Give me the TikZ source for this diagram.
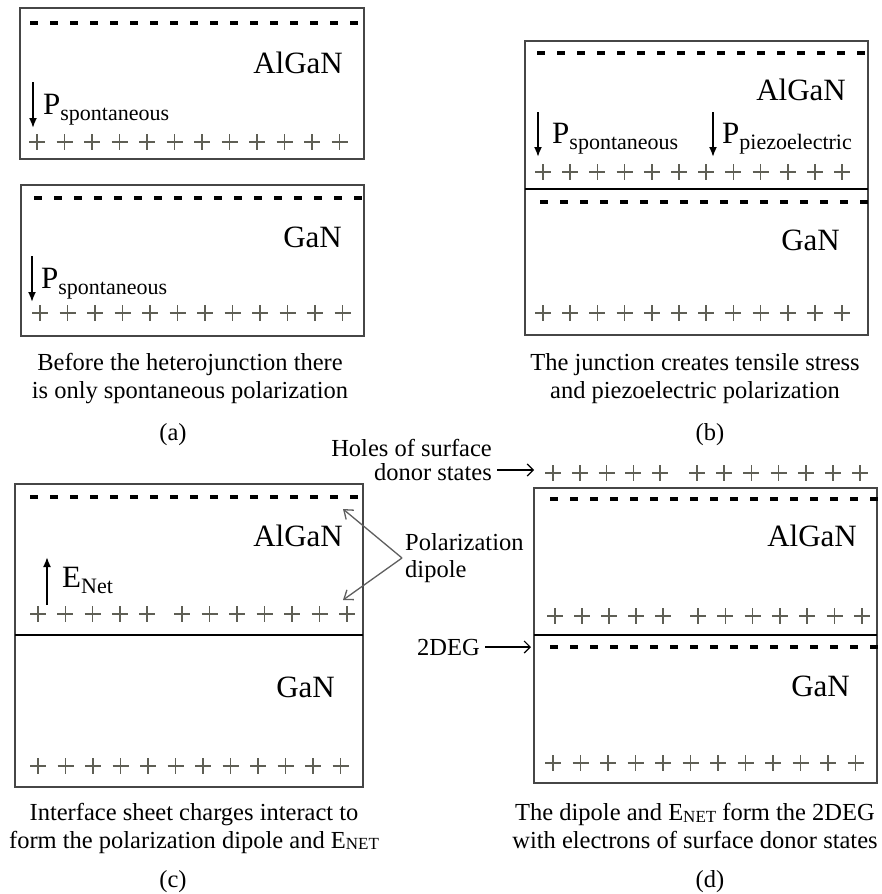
\documentclass[tikz,border=0pt]{standalone}
\usepackage{fontspec}
\setmainfont{Liberation Serif}
\usetikzlibrary{arrows.meta}

\definecolor{boxgray}{RGB}{70,70,70}
\definecolor{plusgray}{RGB}{95,95,85}
\definecolor{pointergray}{RGB}{95,95,95}

% polarization symbol with a subscript
\newcommand\polsym[2]{{\fontsize{31}{31}\selectfont #1}\raisebox{-6pt}{\fontsize{22}{22}\selectfont #2}}
% E_NET as set in the captions
\newcommand\enet{E\raisebox{-1.5pt}{\fontsize{17}{17}\selectfont NET}}

\tikzset{
  layer/.style={draw=boxgray, line width=1.5pt},
  junction/.style={draw=black, line width=2.4pt},
  negrow/.style={draw=black, line width=3.2pt, dash pattern=on 8pt off 12pt},
  plusmark/.style={draw=plusgray, line width=1.6pt},
  material/.style={anchor=base east, inner sep=0pt, font=\fontsize{31}{31}\selectfont},
  polname/.style={anchor=base west, inner sep=0pt},
  polarrow/.style={-{Latex[length=10pt,width=8pt]}, line width=1.8pt},
  caption/.style={align=center, inner sep=0pt, font=\fontsize{24.5}{28}\selectfont},
  tag/.style={inner sep=0pt, font=\fontsize{24.5}{28}\selectfont},
  pointer/.style={-{Straight Barb[length=6pt,width=12pt]}, line width=1.2pt},
  dipole/.style={draw=pointergray, line width=1.3pt, -{Straight Barb[length=8pt,width=12pt]}}
}

% a row of positive charges: #1 = y, #2 = list of x centres
\newcommand\plusrow[2]{%
  \foreach \px in {#2}{%
    \draw[plusmark] (\px-8,#1) -- (\px+8,#1) (\px,#1-8) -- (\px,#1+8);%
  }%
}
% a row of negative charges: 17 dashes starting at x = #2
\newcommand\negrow[2]{\draw[negrow] (#2,#1) -- (#2+328,#1);}

\begin{document}
\begin{tikzpicture}[x=1pt,y=-1pt]
\useasboundingbox[fill=white] (0,0) rectangle (881,894);

% ---------------- (a) separate layers ----------------
\draw[layer] (20,8) rectangle (364,159);
\negrow{23}{30}
\plusrow{142}{37,64.5,...,345}
\node[material] (aAl) at (343,73) {AlGaN};
\node[polname] (aP1) at (43,114) {\polsym{P}{spontaneous}};
\draw[polarrow] (33,82) -- (33,128);

\draw[layer] (21,185) rectangle (364,336);
\negrow{198}{34}
\plusrow{313}{40,67.5,...,348}
\node[material] (aGa) at (342,247) {GaN};
\node[polname] (aP2) at (41,288) {\polsym{P}{spontaneous}};
\draw[polarrow] (32,256) -- (32,302);

\node[caption] (capA) at (190,379) {Before the heterojunction there\\is only spontaneous polarization};
\node[tag] (tagA) at (173,435) {(a)};

% ---------------- (b) junction ----------------
\draw[layer] (525,41) rectangle (868,335);
\draw[junction] (525,189) -- (868,189);
\negrow{53}{537}
\plusrow{172}{543,570.2,...,848}
\negrow{202}{540}
\plusrow{313}{543,570.2,...,848}
\node[material] (bAl) at (846,100) {AlGaN};
\node[material] (bGa) at (840,250) {GaN};
\node[polname] (bP1) at (552,143) {\polsym{P}{spontaneous}};
\draw[polarrow] (538,112) -- (538,157);
\node[polname] (bP2) at (722,143) {\polsym{P}{piezoelectric}};
\draw[polarrow] (713,112) -- (713,157);

\node[caption] (capB) at (695,379) {The junction creates tensile stress\\and piezoelectric polarization};
\node[tag] (tagB) at (710,435) {(b)};

% ---------------- (c) polarization dipole ----------------
\draw[layer] (15,484) rectangle (363,787);
\draw[junction] (15,635) -- (363,635);
\negrow{497}{30}
\plusrow{614}{38,65.3,...,152,182,209.5,...,352}
\plusrow{766}{38,65.5,...,346}
\node[material] (cAl) at (343,546) {AlGaN};
\node[material] (cGa) at (335,697) {GaN};
\node[polname] (cE) at (62,587) {\polsym{E}{Net}};
\draw[polarrow] (47,605) -- (47,557);

\node[tag, align=left, anchor=west] (dip) at (405,558) {Polarization\\[-1pt]dipole};
\coordinate (dipTop) at (343,509);
\coordinate (dipBot) at (343,600);
\draw[dipole] ([xshift=-3pt]dip.west) -- (dipTop);
\draw[dipole] ([xshift=-3pt]dip.west) -- (dipBot);

\node[caption] (capC) at (194,828) {Interface sheet charges interact to\\form the polarization dipole and \enet};
\node[tag] (tagC) at (173,882) {(c)};

% ---------------- (d) 2DEG ----------------
\draw[layer] (534,488) rectangle (877,783);
\draw[junction] (534,635) -- (877,635);
\plusrow{473}{553,579.8,...,665,697,724.2,...,865}
\negrow{499}{550}
\plusrow{616}{555,582,...,668,698,725.3,...,866}
\negrow{647}{550}
\plusrow{763}{553,580.5,...,860}
\node[material] (dAl) at (857,546) {AlGaN};
\node[material] (dGa) at (850,696) {GaN};

\node[tag, align=right, anchor=east, font=\fontsize{24.5}{24}\selectfont] (holes) at (492,460) {Holes of surface\\donor states};
\coordinate (holesTip) at (534,470);
\draw[pointer] ([xshift=5pt]holes.east |- holesTip) -- (holesTip);

\node[tag, anchor=base east] (deg) at (480,655) {2DEG};
\coordinate (degTip) at (531,647);
\draw[pointer] ([xshift=5pt]deg.east |- degTip) -- (degTip);

\node[caption] (capD) at (695,826) {The dipole and \enet{} form the 2DEG\\with electrons of surface donor states};
\node[tag] (tagD) at (710,882) {(d)};
\end{tikzpicture}
\end{document}
